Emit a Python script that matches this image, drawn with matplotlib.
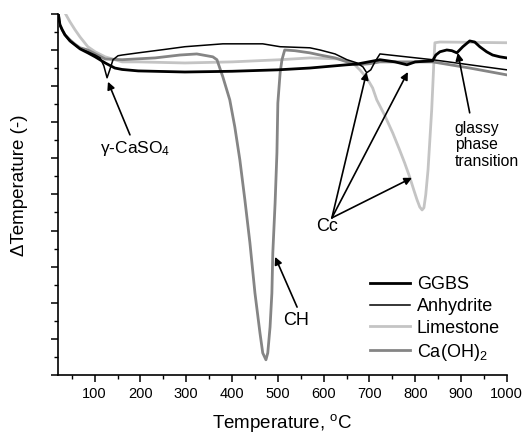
import matplotlib
matplotlib.use("Agg")
import matplotlib.pyplot as plt
from matplotlib.ticker import MultipleLocator, NullFormatter

plt.rcParams['font.family'] = ['Liberation Sans', 'DejaVu Sans']
plt.rcParams['mathtext.fontset'] = 'custom'
plt.rcParams['mathtext.rm'] = 'Liberation Sans'
plt.rcParams['mathtext.it'] = 'Liberation Sans:italic'

# ---- data (temperature in degC, delta-T in arbitrary units) ----
ggbs_T = [20, 24, 29, 35, 46, 57, 68, 85, 101, 123, 144, 160, 195, 297, 400, 500, 570,
          651, 673, 723, 756, 782, 800, 838, 845, 854, 869, 880, 891, 904, 919, 930,
          941, 956, 969, 985, 1000]
ggbs_v = [10.05, 9.70, 9.56, 9.42, 9.25, 9.14, 9.03, 8.92, 8.81, 8.64, 8.50, 8.46, 8.42,
          8.39, 8.41, 8.45, 8.50, 8.59, 8.61, 8.73, 8.67, 8.59, 8.67, 8.70, 8.86, 8.95,
          9.00, 8.98, 8.92, 9.09, 9.25, 9.22, 9.09, 8.95, 8.86, 8.81, 8.78]

anh_T = [20, 24, 29, 35, 46, 57, 68, 85, 101, 112, 120, 127, 133, 140, 151, 160, 195,
         250, 297, 380, 467, 505, 570, 592, 625, 651, 673, 686, 694, 703, 712, 723, 838,
         1000]
anh_v = [10.05, 9.70, 9.56, 9.42, 9.25, 9.14, 9.03, 8.95, 8.86, 8.78, 8.56, 8.23, 8.45,
         8.73, 8.84, 8.86, 8.92, 9.01, 9.09, 9.17, 9.17, 9.09, 9.06, 9.00, 8.89, 8.73,
         8.64, 8.53, 8.37, 8.45, 8.67, 8.89, 8.73, 8.45]

lime_T = [20, 35, 46, 57, 68, 85, 101, 123, 160, 195, 297, 400, 505, 570, 636, 651, 664,
          679, 694, 707, 716, 733, 751, 766, 777, 788, 797, 804, 810, 815, 819, 823, 828,
          832, 836, 838.5, 841, 843, 854, 1000]
lime_v = [10.4, 10.03, 9.78, 9.56, 9.36, 9.09, 8.95, 8.81, 8.67, 8.67, 8.64, 8.67, 8.73,
          8.78, 8.75, 8.70, 8.64, 8.45, 8.23, 7.95, 7.62, 7.20, 6.70, 6.23, 5.87, 5.48,
          5.12, 4.85, 4.65, 4.57, 4.63, 4.99, 5.68, 6.51, 7.34, 8.03, 8.73, 9.20, 9.22, 9.20]

caoh_T = [20, 24, 29, 35, 46, 57, 68, 85, 123, 160, 232, 286, 323, 358, 367, 380, 395,
          406, 417, 428, 439, 450, 461, 467, 474, 478, 483, 487, 489, 494, 498, 500, 505,
          509, 515, 537, 570, 592, 625, 651, 673, 701, 723, 838, 919, 1000]
caoh_v = [10.05, 9.70, 9.56, 9.42, 9.28, 9.16, 9.06, 9.00, 8.75, 8.73, 8.78, 8.86, 8.89,
          8.81, 8.73, 8.25, 7.62, 6.87, 5.96, 4.85, 3.66, 2.27, 1.16, 0.61, 0.42, 0.61,
          1.33, 2.27, 3.38, 4.76, 6.15, 7.53, 8.37, 8.73, 9.00, 8.98, 8.92, 8.86, 8.78,
          8.67, 8.59, 8.62, 8.67, 8.67, 8.50, 8.31]

series_labels = ['GGBS', 'Anhydrite', 'Limestone', 'Ca(OH)$_2$']
x_ticks = [100, 200, 300, 400, 500, 600, 700, 800, 900, 1000]

# ---- figure ----
fig = plt.figure(figsize=(5.23, 4.33), dpi=100)
ax = fig.add_axes([0.111, 0.134, 0.858, 0.834])

ax.plot(ggbs_T, ggbs_v, color='black', lw=2.0, label=series_labels[0], zorder=4)
ax.plot(anh_T, anh_v, color='black', lw=1.1, label=series_labels[1], zorder=5)
ax.plot(lime_T, lime_v, color='#c4c4c4', lw=2.0, label=series_labels[2], zorder=2)
ax.plot(caoh_T, caoh_v, color='#858585', lw=2.0, label=series_labels[3], zorder=3)

ax.set_xlim(20, 1000)
ax.set_ylim(0, 10)
ax.set_xticks(x_ticks)
ax.xaxis.set_minor_locator(MultipleLocator(50))
ax.yaxis.set_major_locator(MultipleLocator(1))
ax.yaxis.set_minor_locator(MultipleLocator(0.5))
ax.yaxis.set_major_formatter(NullFormatter())
ax.tick_params(axis='both', which='major', direction='out', length=5, width=1.1,
               labelsize=10.5)
ax.tick_params(axis='both', which='minor', direction='out', length=3, width=1.0)
for s in ['top', 'right']:
    ax.spines[s].set_visible(False)
for s in ['left', 'bottom']:
    ax.spines[s].set_linewidth(1.2)

ax.set_xlabel('Temperature, $^{\\mathrm{o}}$C', fontsize=13.5, labelpad=8)
ax.set_ylabel('\u0394Temperature (-)', fontsize=13.5)
ax.yaxis.set_label_coords(-0.067, 0.525)

arrow = dict(arrowstyle='-|>', color='black', lw=1.2, mutation_scale=11,
             shrinkA=0, shrinkB=0)

# gamma-CaSO4
ax.text(188, 6.26, '\u03b3-CaSO$_4$', fontsize=12.5, ha='center', va='center')
ax.annotate('', xy=(129, 8.12), xytext=(177, 6.65), arrowprops=arrow)

# Cc
ax.text(607, 4.10, 'Cc', fontsize=13, ha='center', va='center')
for tip in [(694, 8.39), (784, 8.39), (793, 5.46)]:
    ax.annotate('', xy=tip, xytext=(618, 4.35), arrowprops=arrow)

# CH
ax.text(539, 1.52, 'CH', fontsize=13, ha='center', va='center')
ax.annotate('', xy=(494, 3.27), xytext=(542, 1.88), arrowprops=arrow)

# glassy phase transition
ax.text(886, 6.37, 'glassy\nphase\ntransition', fontsize=11.3, ha='left', va='center',
        linespacing=1.15)
ax.annotate('', xy=(893, 8.92), xytext=(919, 7.26), arrowprops=arrow)

leg = ax.legend(loc='upper left', bbox_to_anchor=(0.695, 0.274), frameon=False,
                fontsize=13, handlelength=2.2, handletextpad=0.4, labelspacing=0.27,
                borderpad=0, borderaxespad=0)

fig.savefig('out.png', dpi=100)
